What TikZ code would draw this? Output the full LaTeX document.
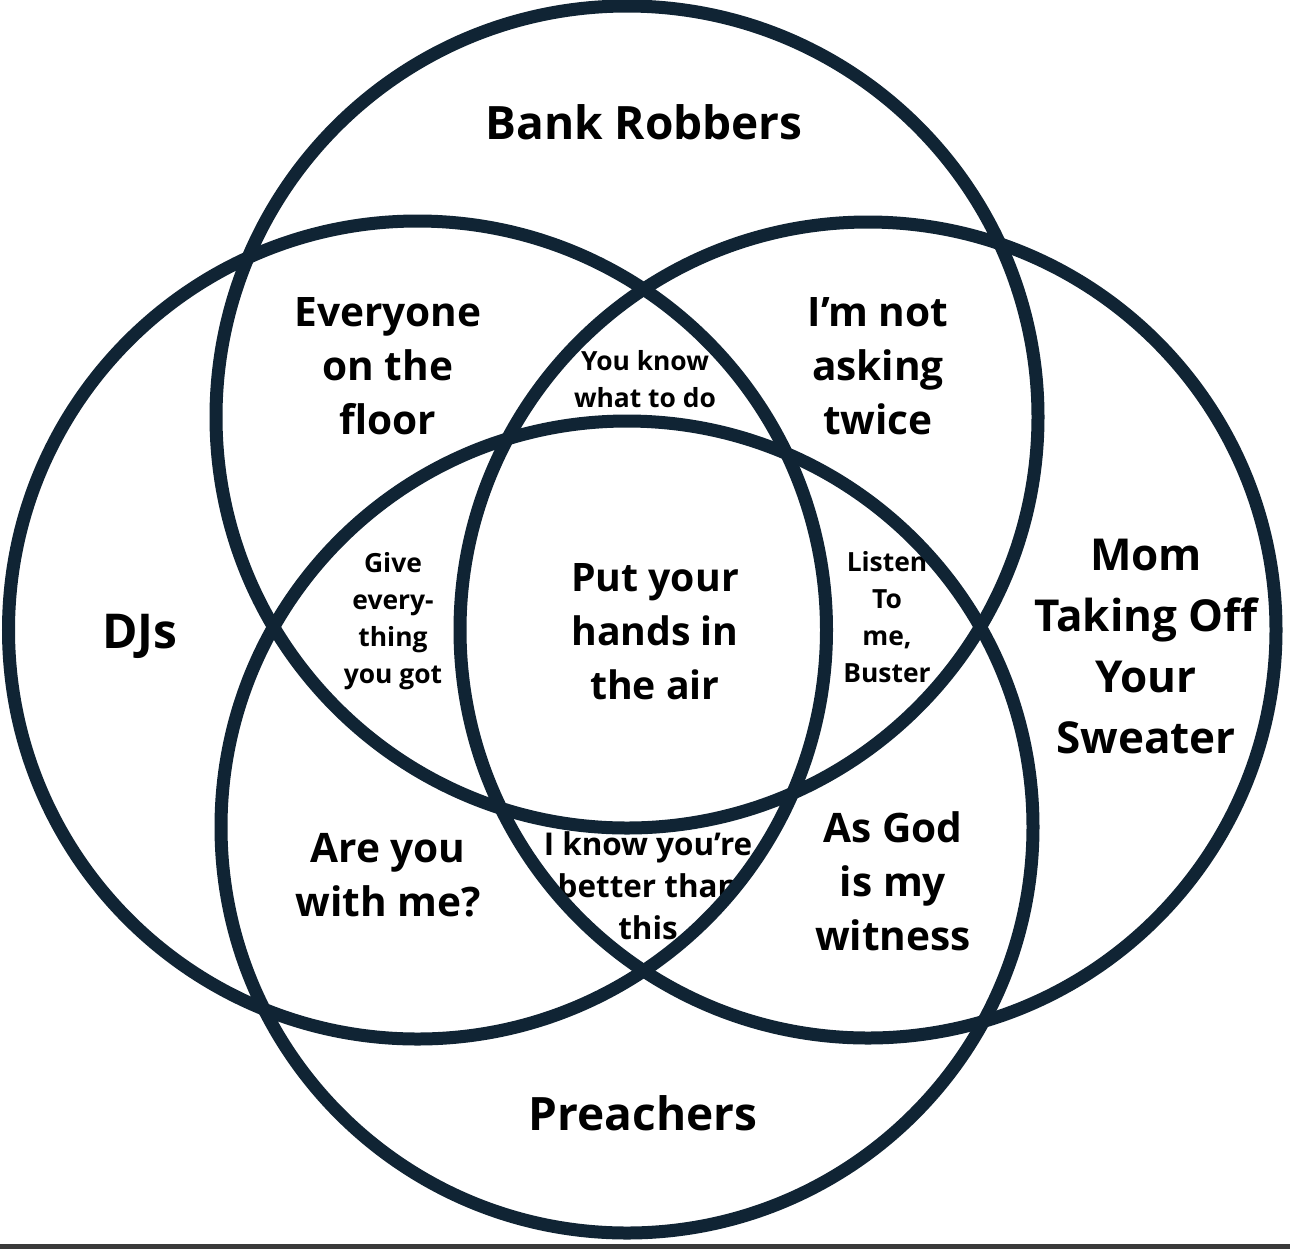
\documentclass[tikz,border=0pt]{standalone}
\usepackage{fontspec}
\setmainfont{Open Sans}
\definecolor{ringc}{RGB}{16,36,52}
\definecolor{barc}{RGB}{58,58,58}
\begin{document}
\begin{tikzpicture}[x=0.5pt,y=-0.5pt,
  ringline/.style={draw=ringc,line width=6.5pt},
  lbl/.style={align=center,inner sep=0pt,text=black},
  big/.style={lbl,font=\bfseries\fontsize{23}{30.5}\selectfont},
  bigm/.style={lbl,font=\bfseries\fontsize{22}{30.5}\selectfont},
  reg/.style={lbl,font=\bfseries\fontsize{20.3}{27}\selectfont},
  ctr/.style={lbl,font=\bfseries\fontsize{19.6}{27}\selectfont},
  mid/.style={lbl,font=\bfseries\fontsize{15.7}{21}\selectfont},
  small/.style={lbl,font=\bfseries\fontsize{13.2}{18.5}\selectfont}]
\useasboundingbox (0,0) rectangle (1290,1249);
\fill[white] (0,0) rectangle (1290,1249);
\fill[barc] (0,1244) rectangle (1290,1249);
% labels
\node[big] (bank) at (644,122) {Bank Robbers};
\node[big,font=\bfseries\fontsize{24}{30.5}\selectfont] (djs) at (140,636) {DJs};
\node[bigm] (mom) at (1146,646) {Mom\\Taking Off\\Your\\Sweater};
\node[big] (preach) at (643,1113) {Preachers};
\node[reg] (every) at (388,366) {Everyone\\on the\\floor};
\node[reg] (notask) at (878,366) {I’m not\\asking\\twice};
\node[reg] (areyou) at (388,875) {Are you\\with me?};
\node[reg] (asgod) at (893,881) {As God\\is my\\witness};
\node[ctr] (hands) at (655,632) {Put your\\hands in\\the air};
\node[small] (youknow) at (645,379) {You know\\what to do};
\node[small] (give) at (393,621) {Give\\every-\\thing\\you got};
\node[small] (listen) at (887,617) {Listen\\To\\me,\\Buster};
\node[mid] (iknow) at (648,886) {I know you’re\\better than\\this};
% rings
\draw[ringline] (627,417) circle[radius=205.5pt];
\draw[ringline] (627,827) circle[radius=203pt];
\draw[ringline] (417.5,630) circle[radius=204.5pt];
\draw[ringline] (868,630) circle[radius=204pt];
\end{tikzpicture}
\end{document}
